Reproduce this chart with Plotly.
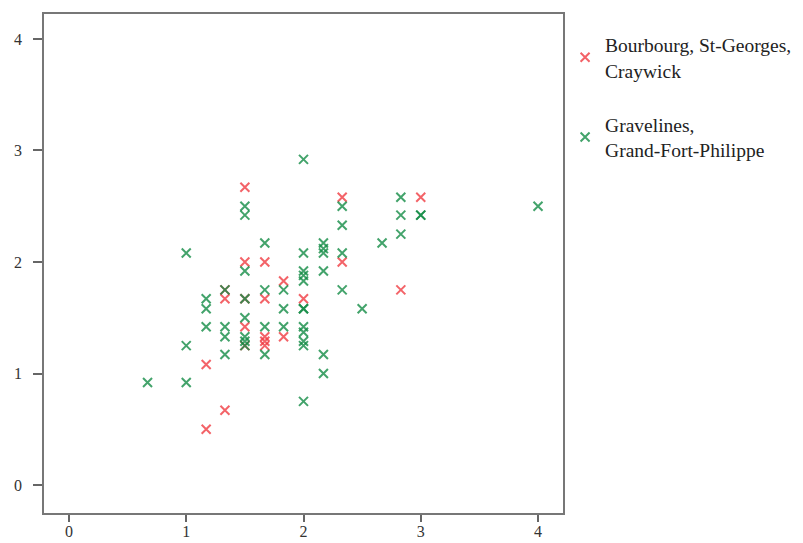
import plotly.graph_objects as go

# Bourbourg, St-Georges, Craywick
red_x = [1.17, 1.17, 1.33, 1.33, 1.33,
         1.5, 1.5, 1.5, 1.5, 1.5,
         1.67, 1.67, 1.67, 1.67, 1.67,
         1.83, 1.83, 2.0, 2.33, 2.33, 2.83, 3.0]
red_y = [0.5, 1.08, 0.67, 1.67, 1.75,
         2.67, 2.0, 1.67, 1.42, 1.25,
         2.0, 1.67, 1.33, 1.29, 1.25,
         1.83, 1.33, 1.67, 2.58, 2.0, 1.75, 2.58]

# Gravelines, Grand-Fort-Philippe
green_x = [0.67, 1.0, 1.0, 1.0,
           1.17, 1.17, 1.17,
           1.33, 1.33, 1.33, 1.33,
           1.5, 1.5, 1.5, 1.5, 1.5, 1.5, 1.5, 1.5,
           1.67, 1.67, 1.67, 1.67,
           1.83, 1.83, 1.83,
           2.0, 2.0, 2.0, 2.0, 2.0, 2.0, 2.0, 2.0, 2.0, 2.0, 2.0, 2.0,
           2.17, 2.17, 2.17, 2.17, 2.17, 2.17,
           2.33, 2.33, 2.33, 2.33,
           2.5, 2.67,
           2.83, 2.83, 2.83,
           3.0, 3.0, 4.0]
green_y = [0.92, 0.92, 1.25, 2.08,
           1.67, 1.58, 1.42,
           1.75, 1.42, 1.33, 1.17,
           2.5, 2.42, 1.92, 1.67, 1.5, 1.33, 1.29, 1.25,
           2.17, 1.75, 1.42, 1.17,
           1.75, 1.58, 1.42,
           2.92, 2.08, 1.92, 1.88, 1.83, 1.58, 1.58, 1.42, 1.37, 1.29, 1.25, 0.75,
           2.17, 2.12, 2.08, 1.92, 1.17, 1.0,
           2.5, 2.33, 2.08, 1.75,
           1.58, 2.17,
           2.58, 2.42, 2.25,
           2.42, 2.42, 2.5]

series_names = ["Bourbourg, St-Georges,<br>Craywick", "Gravelines,<br>Grand-Fort-Philippe"]
tick_vals = [0, 1, 2, 3, 4]

fig = go.Figure()
fig.add_trace(go.Scatter(
    x=red_x, y=red_y, mode="markers", name=series_names[0],
    marker=dict(symbol="x-thin", size=9, line=dict(width=2, color="rgba(240,60,66,0.8)")),
    legendgroup="a"))
fig.add_trace(go.Scatter(
    x=green_x, y=green_y, mode="markers", name=series_names[1],
    marker=dict(symbol="x-thin", size=9, line=dict(width=2, color="rgba(20,140,70,0.8)")),
    legendgroup="b"))

axis_common = dict(
    showgrid=False, zeroline=False, showline=True, mirror=True,
    linecolor="#777777", linewidth=1.5, ticks="outside",
    tickcolor="#666666", tickwidth=1.5, tickvals=tick_vals,
    tickfont=dict(family="Liberation Serif", size=16, color="#333333"),
    automargin=False,
)

fig.update_layout(
    width=795, height=535,
    margin=dict(l=36, r=240, t=6, b=30, autoexpand=False),
    paper_bgcolor="white", plot_bgcolor="white",
    xaxis=dict(range=[-0.213, 4.213], ticklen=7, ticklabelstandoff=-4, **axis_common),
    yaxis=dict(range=[-0.251, 4.224], ticklen=9, ticklabelstandoff=8, **axis_common),
    legend=dict(x=1.004, y=0.977, xanchor="left", yanchor="top",
                font=dict(family="Liberation Serif", size=19.5, color="#222222"),
                tracegroupgap=26, bgcolor="rgba(0,0,0,0)"),
    showlegend=True,
)

fig.write_html("out.html")
